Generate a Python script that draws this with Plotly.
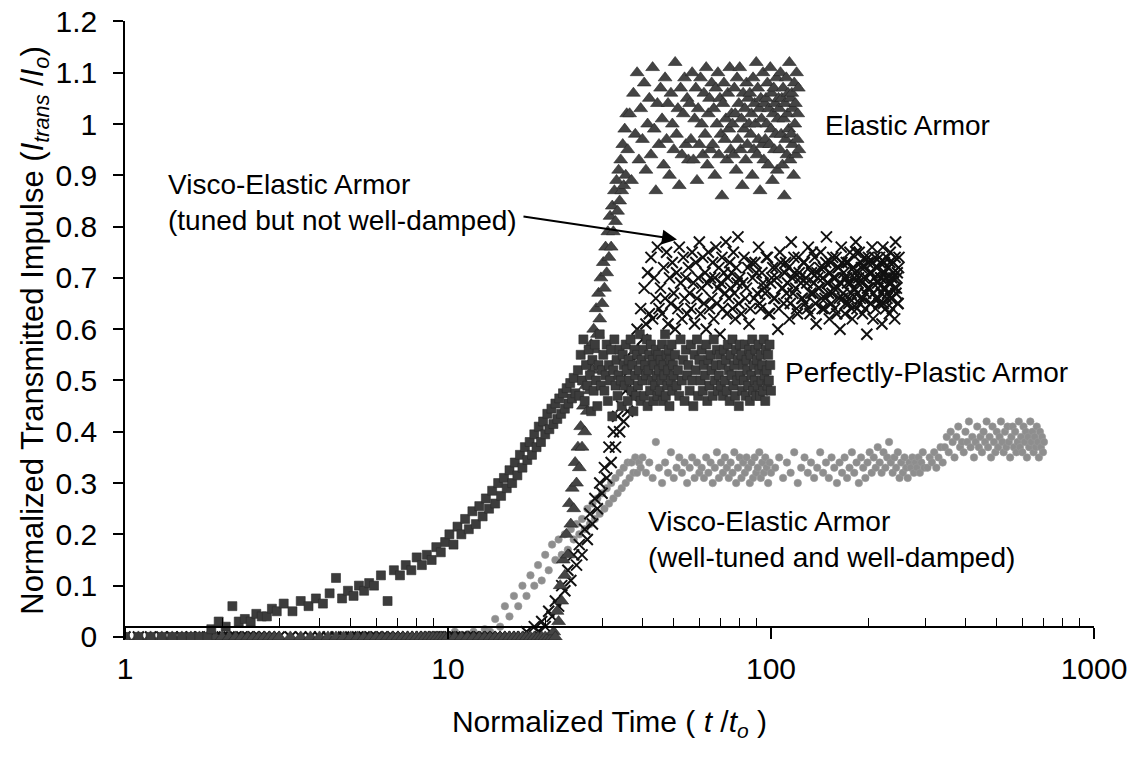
import plotly.graph_objects as go

# ---------------- data ----------------
x_tick_vals = [1, 10, 100, 1000]
x_tick_text = ["1", "10", "100", "1000"]
x_minor_vals = [2, 3, 4, 5, 6, 7, 8, 9, 20, 30, 40, 50, 60, 70, 80, 90,
                200, 300, 400, 500, 600, 700, 800, 900]
y_tick_vals = [0, 0.1, 0.2, 0.3, 0.4, 0.5, 0.6, 0.7, 0.8, 0.9, 1.0, 1.1, 1.2]
y_tick_text = ["0", "0.1", "0.2", "0.3", "0.4", "0.5", "0.6", "0.7", "0.8", "0.9", "1", "1.1", "1.2"]

t_early_a = [1.0, 1.1, 1.2, 1.3, 1.4, 1.5, 1.6, 1.7, 1.8, 1.9, 2.0, 2.1, 2.2, 2.3, 2.4, 2.5, 2.6, 2.7, 2.8, 2.9]
t_early_b = [3.0, 3.25, 3.5, 3.75, 4.0, 4.25, 4.5, 4.75, 5.0, 5.25, 5.5, 5.75, 6.0, 6.25, 6.5, 6.75, 7.0,
             7.25, 7.5, 7.75, 8.0, 8.25, 8.5, 8.75, 9.0, 9.25, 9.5, 9.75]

# ---- Elastic Armor ----
elastic_pre_t = t_early_a + t_early_b + [10.0, 10.5, 11.0, 11.5, 12.0, 12.5, 13.0, 13.5, 14.0, 14.5, 15.0, 15.5,
                                         16.0, 16.5, 17.0, 17.5, 18.0, 18.5, 19.0, 19.5, 20.0, 20.5, 21.0]
elastic_pre_i = [0, 0, 0, 0, 0, 0, 0, 0, 0, 0, 0, 0, 0, 0, 0, 0, 0, 0, 0, 0,
                 0, 0, 0, 0, 0, 0, 0, 0, 0, 0, 0, 0, 0, 0, 0, 0, 0, 0, 0, 0,
                 0, 0, 0, 0, 0, 0, 0, 0, 0, 0, 0, 0, 0, 0, 0, 0, 0, 0, 0, 0,
                 0, 0, 0, 0, 0, 0, 0, 0, 0, 0, 0]
elastic_rise_t = [21.25, 21.5, 21.75, 22, 22.25, 22.5, 22.75, 23, 23.25, 23.5, 23.75, 24, 24.25, 24.5, 24.75,
                  25, 25.25, 25.5, 25.75, 26, 26.25, 26.5, 26.75, 27, 27.25, 27.5, 27.75, 28, 28.25, 28.5,
                  28.75, 29, 29.25, 29.5, 29.75, 30, 30.25, 30.5, 30.75, 31, 31.25, 31.5, 31.75, 32, 32.25,
                  32.5, 32.75, 33, 33.25, 33.5, 33.75, 34, 34.25, 34.5, 34.75, 35, 35.25, 35.5, 35.75]
elastic_rise_i = [0.01, 0.0, 0.05, 0.03, 0.1, 0.07, 0.15, 0.12, 0.2, 0.16, 0.26, 0.22, 0.29, 0.25, 0.34,
                  0.3, 0.37, 0.33, 0.41, 0.37, 0.45, 0.4, 0.49, 0.44, 0.53, 0.48, 0.57, 0.52, 0.6, 0.56,
                  0.64, 0.59, 0.67, 0.62, 0.7, 0.65, 0.73, 0.68, 0.76, 0.71, 0.79, 0.74, 0.82, 0.76, 0.84,
                  0.79, 0.87, 0.81, 0.89, 0.83, 0.91, 0.85, 0.93, 0.87, 0.96, 0.88, 0.99, 0.9, 1.02]
elastic_plat_t = [36, 36.5, 37, 37.5, 38, 38.5, 39, 39.5, 40, 40.5, 41, 41.5, 42, 42.5, 43, 43.5, 44, 44.5,
                  45, 45.5, 46, 46.5, 47, 47.5, 48, 48.5, 49, 49.5, 50, 50.5, 51, 51.5, 52, 52.5, 53, 53.5,
                  54, 54.5, 55, 55.5, 56, 56.5, 57, 57.5, 58, 58.5, 59, 59.5, 60,
                  60.5, 61, 61.5, 62, 62.5, 63, 63.5, 64, 64.5, 65, 65.5, 66, 66.5, 67, 67.5, 68, 68.5, 69,
                  69.5, 70, 70.5, 71, 71.5, 72, 72.5, 73, 73.5, 74, 74.5, 75, 75.5, 76, 76.5, 77, 77.5, 78,
                  78.5, 79, 79.5, 80, 80.5, 81, 81.5, 82, 82.5, 83, 83.5, 84, 84.5, 85, 85.5, 86, 86.5, 87,
                  87.5, 88, 88.5, 89, 89.5, 90, 90.5, 91, 91.5, 92, 92.5, 93, 93.5, 94, 94.5, 95, 95.5, 96,
                  96.5, 97, 97.5, 98, 98.5, 99, 99.5, 100, 100.5, 101, 101.5, 102, 102.5, 103, 103.5, 104,
                  104.5, 105, 105.5, 106, 106.5, 107, 107.5, 108, 108.5, 109, 109.5, 110, 110.5, 111, 111.5,
                  112, 112.5, 113, 113.5, 114, 114.5, 115, 115.5, 116, 116.5, 117, 117.5, 118, 118.5, 119,
                  119.5, 120, 120.5, 121, 121.5, 122]
elastic_plat_i = [0.95, 1.02, 0.89, 1.06, 0.98, 1.1, 0.93, 1.03, 0.97, 1.08, 0.91, 1.0, 1.05, 0.94, 1.11, 0.99, 0.87, 1.04, 0.96, 1.07,
                  1.01, 0.92, 1.09, 0.97, 1.04, 0.9, 1.06, 1.0, 0.95, 1.12, 0.98, 1.03, 0.88, 1.07, 0.94, 1.02, 1.09, 0.96, 1.05, 0.93,
                  1.04, 0.97, 1.1, 0.93, 1.01, 1.07, 0.89, 1.03, 0.96, 1.09, 1.0, 0.94, 1.06, 0.98, 1.11, 0.92, 1.02, 1.05, 0.95, 1.08,
                  0.96, 1.03, 0.9, 1.07, 1.0, 1.1, 0.94, 1.05, 0.98, 0.86, 1.04, 1.08, 0.97, 1.01, 0.93, 1.06, 0.99, 1.11, 0.95, 1.02,
                  1.0, 0.94, 1.07, 1.02, 0.91, 1.09, 0.97, 1.04, 1.11, 0.95, 1.01, 0.88, 1.06, 0.99, 1.03, 0.93, 1.08, 0.96, 1.05, 1.0,
                  1.06, 0.98, 1.02, 0.9, 1.09, 0.95, 1.04, 1.0, 1.12, 0.94, 1.07, 0.97, 1.03, 0.87, 1.05, 1.01, 0.96, 1.1, 0.93, 1.04,
                  0.97, 1.05, 1.0, 1.08, 0.92, 1.03, 0.96, 1.11, 0.99, 1.06, 0.89, 1.02, 1.07, 0.95, 1.04, 0.98, 1.09, 0.91, 1.01, 1.05,
                  1.03, 0.95, 1.1, 0.98, 1.05, 0.92, 1.07, 1.01, 0.86, 1.04, 0.97, 1.09, 0.94, 1.02, 1.06, 0.99, 1.12, 0.93, 1.05, 0.98,
                  1.06, 0.96, 1.03, 0.9, 1.08, 1.0, 1.04, 0.94, 1.1, 0.97, 1.02, 1.07, 0.95]

# ---- Visco-Elastic Armor (tuned but not well-damped) ----
tuned_pre_t = t_early_a + t_early_b + [10.0, 10.5, 11.0, 11.5, 12.0, 12.5, 13.0, 13.5, 14.0, 14.5, 15.0, 15.5, 16.0, 16.5]
tuned_pre_i = [0, 0, 0, 0, 0, 0, 0, 0, 0, 0, 0, 0, 0, 0, 0, 0, 0, 0, 0, 0,
               0, 0, 0, 0, 0, 0, 0, 0, 0, 0, 0, 0, 0, 0, 0, 0, 0, 0, 0, 0,
               0, 0, 0, 0, 0, 0, 0, 0, 0, 0, 0, 0, 0, 0, 0, 0, 0, 0, 0, 0,
               0, 0]
tuned_rise_t = [17, 17.5, 18, 18.5, 19, 19.5, 20, 20.5, 21, 21.5, 22, 22.5, 23, 23.5, 24, 24.5, 25, 25.5, 26,
                26.5, 27, 27.5, 28, 28.5, 29, 29.5, 30, 30.5, 31, 31.5, 32, 32.5, 33, 33.5, 34, 34.5, 35, 35.5,
                36, 36.5, 37, 37.5, 38, 38.5, 39, 39.5, 40, 40.5, 41, 41.5, 42, 42.5, 43, 43.5, 44, 44.5, 45]
tuned_rise_i = [0.0, 0.01, 0.0, 0.02, 0.01, 0.03, 0.02, 0.05, 0.04, 0.07, 0.06, 0.1, 0.09, 0.13, 0.11, 0.16, 0.14,
                0.18, 0.16, 0.21, 0.19, 0.24, 0.22, 0.27, 0.25, 0.3, 0.28, 0.33, 0.31, 0.37, 0.34, 0.4, 0.37, 0.43,
                0.4, 0.45, 0.42, 0.48, 0.44, 0.52, 0.47, 0.56, 0.51, 0.6, 0.55, 0.64, 0.58, 0.68, 0.61, 0.71, 0.63,
                0.74, 0.62, 0.7, 0.66, 0.76, 0.64]
tuned_plat_t = [45.5, 46, 46.5, 47, 47.5, 48, 48.5, 49, 49.5, 50, 50.5, 51, 51.5, 52, 52.5, 53, 53.5, 54, 54.5, 55,
                55.5, 56, 56.5, 57, 57.5, 58, 58.5, 59, 59.5, 60, 60.5, 61, 61.5, 62, 62.5, 63, 63.5, 64, 64.5, 65,
                65.5, 66, 66.5, 67, 67.5, 68, 68.5, 69, 69.5, 70, 70.5, 71, 71.5, 72, 72.5, 73, 73.5, 74, 74.5, 75,
                75.5, 76, 76.5, 77, 77.5, 78, 78.5, 79, 79.5, 80,
                81, 82.5, 84, 85.5, 87, 88.5, 90, 91.5, 93, 94.5, 96, 97.5, 99, 100.5, 102, 103.5, 105, 106.5, 108, 109.5,
                111, 112.5, 114, 115.5, 117, 118.5, 120, 121.5, 123, 124.5, 126, 127.5, 129, 130.5, 132, 133.5, 135, 136.5,
                138, 139.5, 141, 142.5, 144, 145.5, 147, 148.5, 150, 151.5, 153, 154.5, 156, 157.5, 159, 160.5, 162, 163.5,
                165, 166.5, 168, 169.5, 171, 172.5, 174, 175.5, 177, 178.5, 180, 181.5, 183, 184.5, 186, 187.5, 189, 190.5,
                192, 193.5, 195, 196.5, 198, 199.5, 201, 202.5, 204, 205.5, 207, 208.5, 210, 211.5, 213, 214.5, 216, 217.5,
                219, 220.5, 222, 223.5, 225, 226.5, 228, 229.5, 231, 232.5, 234, 235.5, 237, 238.5, 240, 241.5, 243, 244.5,
                246, 247.5, 249]
tuned_plat_i = [0.68, 0.63, 0.72, 0.66, 0.75, 0.61, 0.7, 0.65, 0.73, 0.67, 0.6, 0.71, 0.64, 0.76, 0.69, 0.62, 0.74, 0.66, 0.7, 0.63,
                0.72, 0.67, 0.64, 0.75, 0.69, 0.61, 0.73, 0.66, 0.7, 0.77, 0.63, 0.68, 0.74, 0.65, 0.71, 0.6, 0.69, 0.75, 0.64, 0.7,
                0.66, 0.73, 0.62, 0.7, 0.76, 0.65, 0.68, 0.72, 0.59, 0.69, 0.74, 0.64, 0.71, 0.67, 0.77, 0.63, 0.7, 0.66, 0.73, 0.68,
                0.71, 0.64, 0.75, 0.67, 0.62, 0.72, 0.69, 0.78, 0.65, 0.7, 0.63, 0.74, 0.68, 0.61, 0.73, 0.66, 0.71, 0.76, 0.64, 0.69,
                0.67, 0.74, 0.63, 0.7, 0.66, 0.72, 0.6, 0.75, 0.68, 0.65, 0.73, 0.69, 0.62, 0.77, 0.67, 0.71, 0.64, 0.74, 0.7, 0.66,
                0.73, 0.65, 0.69, 0.76, 0.63, 0.71, 0.67, 0.74, 0.61, 0.7, 0.68, 0.75, 0.64, 0.72, 0.66, 0.78, 0.69, 0.62, 0.73, 0.67,
                0.7, 0.64, 0.74, 0.68, 0.72, 0.6, 0.76, 0.66, 0.71, 0.63, 0.73, 0.69, 0.65, 0.75, 0.67, 0.62, 0.72, 0.7, 0.77, 0.64,
                0.69, 0.75, 0.66, 0.72, 0.63, 0.7, 0.74, 0.67, 0.59, 0.73, 0.68, 0.71, 0.65, 0.76, 0.62, 0.7, 0.74, 0.66, 0.72, 0.68,
                0.65, 0.73, 0.7, 0.61, 0.76, 0.68, 0.71, 0.64, 0.74, 0.67, 0.72, 0.63, 0.75, 0.69, 0.66, 0.73, 0.7, 0.62, 0.77, 0.68,
                0.71, 0.65, 0.74]
# intermediate samples of the same record in the late plateau (densely packed core)
tuned_late_t = [81.75, 83.25, 84.75, 86.25, 87.75, 89.25, 90.75, 92.25, 93.75, 95.25,
                96.75, 98.25, 99.75, 101.25, 102.75, 104.25, 105.75, 107.25, 108.75, 110.25,
                111.75, 113.25, 114.75, 116.25, 117.75, 119.25, 120.75, 122.25, 123.75, 125.25,
                126.75, 128.25, 129.75, 131.25, 132.75, 134.25, 135.75, 137.25, 138.75, 140.25,
                141.75, 143.25, 144.75, 146.25, 147.75, 149.25, 150.75, 152.25, 153.75, 155.25,
                156.75, 158.25, 159.75, 161.25, 162.75, 164.25, 165.75, 167.25, 168.75, 170.25,
                171.75, 173.25, 174.75, 176.25, 177.75, 179.25, 180.75, 182.25, 183.75, 185.25,
                186.75, 188.25, 189.75, 191.25, 192.75, 194.25, 195.75, 197.25, 198.75, 200.25,
                201.75, 203.25, 204.75, 206.25, 207.75, 209.25, 210.75, 212.25, 213.75, 215.25,
                216.75, 218.25, 219.75, 221.25, 222.75, 224.25, 225.75, 227.25, 228.75, 230.25,
                231.75, 233.25, 234.75, 236.25, 237.75, 239.25, 240.75, 242.25, 243.75, 245.25,
                246.75, 248.25]
tuned_late_i = [0.69, 0.66, 0.72, 0.64, 0.7, 0.73, 0.67, 0.65, 0.71, 0.68, 0.74, 0.63, 0.69, 0.72, 0.66, 0.7, 0.64, 0.73, 0.68, 0.71,
                0.67, 0.72, 0.65, 0.7, 0.74, 0.68, 0.63, 0.71, 0.69, 0.66, 0.73, 0.7, 0.64, 0.72, 0.67, 0.75, 0.69, 0.65, 0.71, 0.68,
                0.72, 0.66, 0.7, 0.64, 0.73, 0.69, 0.67, 0.71, 0.65, 0.74, 0.68, 0.7, 0.63, 0.72, 0.66, 0.69, 0.73, 0.67, 0.7, 0.65,
                0.7, 0.73, 0.66, 0.69, 0.64, 0.72, 0.68, 0.71, 0.75, 0.67, 0.7, 0.65, 0.73, 0.69, 0.66, 0.72, 0.64, 0.7, 0.68, 0.74,
                0.68, 0.65, 0.71, 0.73, 0.67, 0.7, 0.64, 0.72, 0.69, 0.66, 0.74, 0.7, 0.67, 0.71, 0.65, 0.73, 0.68, 0.7, 0.66, 0.72,
                0.69, 0.73, 0.66, 0.7, 0.64, 0.71, 0.68, 0.74, 0.67, 0.7, 0.65, 0.72]

# ---- Perfectly-Plastic Armor ----
plastic_pre_t = [1.0, 1.1, 1.2, 1.3, 1.4, 1.5, 1.6, 1.7, 1.8]
plastic_pre_i = [0, 0, 0, 0, 0, 0, 0, 0, 0]
plastic_rise_t = [1.85, 1.95, 2.05, 2.15, 2.25, 2.35, 2.45, 2.55, 2.65, 2.75, 2.85, 2.95,
                  3.1, 3.3, 3.5, 3.7, 3.9, 4.1, 4.3, 4.5, 4.7, 4.9, 5.1, 5.3, 5.5, 5.7, 5.9,
                  6.2, 6.5, 6.8, 7.1, 7.4, 7.7, 8.0, 8.3, 8.6, 8.9, 9.2, 9.5, 9.8,
                  10.1, 10.4, 10.7, 11.0, 11.3, 11.6, 11.9, 12.2, 12.5, 12.8, 13.1, 13.4, 13.7, 14.0, 14.3,
                  14.6, 14.9, 15.2, 15.5, 15.8, 16.1, 16.4, 16.7, 17.0, 17.3, 17.6, 17.9, 18.2, 18.5, 18.8,
                  19.1, 19.4, 19.7, 20.0, 20.3, 20.6, 20.9, 21.2, 21.5, 21.8, 22.1, 22.4, 22.7, 23.0, 23.3,
                  23.6, 23.9, 24.2, 24.5, 24.8]
plastic_rise_i = [0.015, 0.03, 0.02, 0.06, 0.03, 0.035, 0.03, 0.045, 0.04, 0.04, 0.055, 0.05,
                  0.065, 0.05, 0.07, 0.06, 0.075, 0.065, 0.085, 0.115, 0.075, 0.09, 0.08, 0.1, 0.09, 0.105, 0.1,
                  0.12, 0.07, 0.13, 0.12, 0.14, 0.13, 0.155, 0.14, 0.16, 0.15, 0.175, 0.165, 0.185,
                  0.2, 0.18, 0.215, 0.2, 0.23, 0.21, 0.245, 0.22, 0.255, 0.235, 0.27, 0.25, 0.285, 0.26, 0.3,
                  0.275, 0.31, 0.29, 0.325, 0.3, 0.34, 0.315, 0.355, 0.33, 0.37, 0.345, 0.38, 0.355, 0.395, 0.37,
                  0.41, 0.38, 0.42, 0.395, 0.435, 0.405, 0.445, 0.415, 0.455, 0.425, 0.465, 0.435, 0.475, 0.445, 0.485,
                  0.455, 0.495, 0.465, 0.505, 0.475]
plastic_plat_t = [25.25, 25.5, 25.75, 26, 26.25, 26.5, 26.75, 27, 27.25, 27.5, 27.75, 28, 28.25, 28.5, 28.75, 29, 29.25, 29.5, 29.75, 30,
                  30.25, 30.5, 30.75, 31, 31.25, 31.5, 31.75, 32, 32.25, 32.5, 32.75, 33, 33.25, 33.5, 33.75, 34, 34.25, 34.5, 34.75, 35,
                  35.25, 35.5, 35.75, 36, 36.25, 36.5, 36.75, 37, 37.25, 37.5, 37.75, 38, 38.25, 38.5, 38.75, 39, 39.25, 39.5, 39.75, 40,
                  40.25, 40.5, 40.75, 41, 41.25, 41.5, 41.75, 42, 42.25, 42.5, 42.75, 43, 43.25, 43.5, 43.75, 44, 44.25, 44.5, 44.75, 45,
                  45.25, 45.5, 45.75, 46, 46.25, 46.5, 46.75, 47, 47.25, 47.5, 47.75, 48, 48.25, 48.5, 48.75, 49, 49.25, 49.5, 49.75, 50,
                  50.5, 51, 51.5, 52, 52.5, 53, 53.5, 54, 54.5, 55, 55.5, 56, 56.5, 57, 57.5, 58, 58.5, 59, 59.5, 60,
                  60.5, 61, 61.5, 62, 62.5, 63, 63.5, 64, 64.5, 65, 65.5, 66, 66.5, 67, 67.5, 68, 68.5, 69, 69.5, 70,
                  70.5, 71, 71.5, 72, 72.5, 73, 73.5, 74, 74.5, 75, 75.5, 76, 76.5, 77, 77.5, 78, 78.5, 79, 79.5, 80,
                  80.5, 81, 81.5, 82, 82.5, 83, 83.5, 84, 84.5, 85, 85.5, 86, 86.5, 87, 87.5, 88, 88.5, 89, 89.5, 90,
                  90.5, 91, 91.5, 92, 92.5, 93, 93.5, 94, 94.5, 95, 95.5, 96, 96.5, 97, 97.5, 98, 98.5, 99, 99.5, 100]
plastic_plat_i = [0.52, 0.47, 0.55, 0.5, 0.58, 0.46, 0.53, 0.49, 0.56, 0.51, 0.44, 0.54, 0.48, 0.57, 0.5, 0.45, 0.53, 0.59, 0.49, 0.52,
                  0.55, 0.48, 0.51, 0.57, 0.46, 0.53, 0.5, 0.56, 0.43, 0.52, 0.58, 0.49, 0.54, 0.47, 0.51, 0.56, 0.5, 0.45, 0.55, 0.53,
                  0.49, 0.57, 0.52, 0.46, 0.54, 0.5, 0.58, 0.48, 0.53, 0.44, 0.56, 0.51, 0.47, 0.55, 0.49, 0.52, 0.59, 0.46, 0.54, 0.5,
                  0.56, 0.47, 0.53, 0.51, 0.58, 0.45, 0.52, 0.55, 0.48, 0.57, 0.5, 0.54, 0.46, 0.53, 0.49, 0.56, 0.51, 0.47, 0.55, 0.52,
                  0.48, 0.54, 0.5, 0.57, 0.46, 0.53, 0.51, 0.59, 0.47, 0.55, 0.49, 0.52, 0.56, 0.45, 0.54, 0.5, 0.57, 0.48, 0.53, 0.51,
                  0.55, 0.49, 0.52, 0.47, 0.58, 0.5, 0.54, 0.46, 0.56, 0.51, 0.53, 0.48, 0.57, 0.5, 0.45, 0.55, 0.52, 0.58, 0.47, 0.54,
                  0.5, 0.56, 0.48, 0.53, 0.51, 0.57, 0.46, 0.54, 0.49, 0.55, 0.52, 0.47, 0.58, 0.5, 0.53, 0.56, 0.48, 0.51, 0.55, 0.49,
                  0.53, 0.47, 0.56, 0.5, 0.54, 0.48, 0.57, 0.52, 0.46, 0.55, 0.51, 0.58, 0.49, 0.53, 0.47, 0.56, 0.5, 0.54, 0.45, 0.57,
                  0.51, 0.55, 0.48, 0.53, 0.5, 0.57, 0.47, 0.54, 0.52, 0.49, 0.56, 0.46, 0.55, 0.51, 0.58, 0.48, 0.53, 0.5, 0.56, 0.47,
                  0.54, 0.49, 0.57, 0.52, 0.47, 0.55, 0.5, 0.53, 0.48, 0.58, 0.51, 0.46, 0.56, 0.52, 0.49, 0.55, 0.5, 0.57, 0.53, 0.48]

# ---- Visco-Elastic Armor (well-tuned and well-damped) ----
damped_pre_t = [10.0, 10.5, 11.0, 11.5, 12.0, 12.5, 13.0]
damped_pre_i = [0, 0.01, 0, 0.005, 0.01, 0, 0.015]
damped_rise_t = [13.5, 14, 14.5, 15, 15.5, 16, 16.5, 17, 17.5, 18, 18.5, 19, 19.5, 20, 20.5, 21, 21.5, 22, 22.5,
                 23, 23.5, 24, 24.5, 25, 25.5, 26, 26.5, 27, 27.5, 28, 28.5, 29, 29.5, 30, 30.5, 31, 31.5, 32,
                 32.5, 33, 33.5, 34, 34.5, 35, 35.5, 36, 36.5, 37, 37.5, 38, 38.5, 39, 39.5, 40]
damped_rise_i = [0.01, 0.035, 0.02, 0.06, 0.04, 0.08, 0.06, 0.1, 0.08, 0.12, 0.1, 0.14, 0.11, 0.16, 0.13, 0.18, 0.15,
                 0.19, 0.16, 0.2, 0.17, 0.21, 0.19, 0.22, 0.2, 0.23, 0.21, 0.25, 0.22, 0.26, 0.23, 0.27, 0.24, 0.28,
                 0.25, 0.29, 0.26, 0.3, 0.27, 0.31, 0.28, 0.32, 0.29, 0.33, 0.3, 0.34, 0.31, 0.34, 0.32, 0.35, 0.32,
                 0.34, 0.33, 0.35]
damped_plat_t = [41, 42, 43, 44, 45, 46, 47, 48, 49, 50, 51, 52, 53, 54, 55, 56, 57, 58, 59, 60,
                 61, 62, 63, 64, 65, 66, 67, 68, 69, 70, 71, 72, 73, 74, 75, 76, 77, 78, 79, 80,
                 81, 82, 83, 84, 85, 86, 87, 88, 89, 90, 91, 92, 93, 94, 95, 96, 97, 98, 99, 100,
                 103, 106, 109, 112, 115, 118, 121, 124, 127, 130, 133, 136, 139, 142, 145, 148, 151, 154, 157, 160,
                 163, 166, 169, 172, 175, 178, 181, 184, 187, 190, 193, 196, 199, 202, 205, 208, 211, 214, 217, 220,
                 223, 226, 229, 232, 235, 238, 241, 244, 247, 250, 253, 256, 259, 262, 265, 268, 271, 274, 277, 280,
                 283, 286, 289, 292, 295, 298,
                 305, 310, 315, 320, 325, 330, 335, 340,
                 345, 350, 355, 360, 365, 370, 375, 380, 385, 390, 395, 400, 405, 410, 415, 420, 425, 430, 435, 440,
                 445, 450, 455, 460, 465, 470, 475, 480, 485, 490, 495, 500, 505, 510, 515, 520, 525, 530, 535, 540,
                 545, 550, 555, 560, 565, 570, 575, 580, 585, 590, 595, 600, 605, 610, 615, 620, 625, 630, 635, 640,
                 645, 650, 655, 660, 665, 670, 675, 680, 685, 690, 695, 700]
damped_plat_i = [0.32, 0.34, 0.31, 0.38, 0.33, 0.3, 0.34, 0.32, 0.36, 0.31, 0.33, 0.35, 0.32, 0.34, 0.3, 0.33, 0.35, 0.31, 0.34, 0.32,
                 0.33, 0.31, 0.35, 0.32, 0.34, 0.3, 0.33, 0.36, 0.31, 0.34, 0.32, 0.35, 0.33, 0.31, 0.34, 0.32, 0.36, 0.3, 0.33, 0.35,
                 0.31, 0.34, 0.32, 0.35, 0.33, 0.3, 0.34, 0.31, 0.35, 0.32, 0.33, 0.36, 0.31, 0.34, 0.32, 0.35, 0.33, 0.3, 0.34, 0.32,
                 0.33, 0.35, 0.31, 0.34, 0.32, 0.36, 0.3, 0.33, 0.35, 0.32, 0.34, 0.31, 0.33, 0.36, 0.32, 0.34, 0.31, 0.35, 0.33, 0.3,
                 0.34, 0.32, 0.35, 0.31, 0.33, 0.36, 0.32, 0.34, 0.3, 0.35, 0.33, 0.31, 0.34, 0.36, 0.32, 0.35, 0.33, 0.37, 0.34, 0.32,
                 0.36, 0.33, 0.35, 0.38, 0.34, 0.32, 0.35, 0.33, 0.36, 0.31, 0.34, 0.32, 0.35, 0.33, 0.31, 0.34, 0.33, 0.35, 0.32, 0.34,
                 0.33, 0.35, 0.32, 0.34, 0.36, 0.33,
                 0.33, 0.35, 0.34, 0.36, 0.33, 0.35, 0.37, 0.34,
                 0.37, 0.39, 0.36, 0.4, 0.38, 0.35, 0.39, 0.41, 0.37, 0.38, 0.36, 0.4, 0.38, 0.42, 0.37, 0.39, 0.35, 0.38, 0.41, 0.37,
                 0.39, 0.36, 0.4, 0.38, 0.42, 0.37, 0.39, 0.35, 0.41, 0.38, 0.36, 0.4, 0.37, 0.39, 0.42, 0.38, 0.36, 0.4, 0.37, 0.41,
                 0.38, 0.35, 0.39, 0.41, 0.37, 0.4, 0.36, 0.38, 0.42, 0.37, 0.39, 0.36, 0.41, 0.38, 0.4, 0.35, 0.39, 0.37, 0.42, 0.38,
                 0.4, 0.36, 0.39, 0.37, 0.41, 0.38, 0.35, 0.4, 0.37, 0.39, 0.36, 0.38]

# ---------------- figure ----------------
FONT = "Liberation Sans, Arial, Helvetica, sans-serif"
Y_MIN, Y_MAX = -0.006, 1.2008
X_AXIS_AT = 0.0185  # time-axis baseline sits just above zero in the original

fig = go.Figure()

fig.add_trace(go.Scatter(
    x=damped_pre_t + damped_rise_t + damped_plat_t,
    y=damped_pre_i + damped_rise_i + damped_plat_i,
    mode="markers", name="Visco-Elastic (well-tuned and well-damped)",
    marker=dict(symbol="circle", size=7.5, color="#8e8e8e", line=dict(width=0.6, color="#9a9a9a")),
    hoverinfo="skip"))

fig.add_trace(go.Scatter(
    x=tuned_pre_t + tuned_rise_t + tuned_plat_t + tuned_late_t,
    y=tuned_pre_i + tuned_rise_i + tuned_plat_i + tuned_late_i,
    mode="markers", name="Visco-Elastic (tuned but not well-damped)",
    marker=dict(symbol="x-thin", size=11, color="#111111", line=dict(width=2, color="#111111")),
    hoverinfo="skip"))

fig.add_trace(go.Scatter(
    x=elastic_pre_t + elastic_rise_t + elastic_plat_t,
    y=elastic_pre_i + elastic_rise_i + elastic_plat_i,
    mode="markers", name="Elastic Armor",
    marker=dict(symbol="triangle-up", size=12, color="#444444", line=dict(width=0.6, color="#262626")),
    hoverinfo="skip"))

fig.add_trace(go.Scatter(
    x=plastic_pre_t + plastic_rise_t + plastic_plat_t,
    y=plastic_pre_i + plastic_rise_i + plastic_plat_i,
    mode="markers", name="Perfectly-Plastic Armor",
    marker=dict(symbol="square", size=9, color="#3c3c3c", line=dict(width=0.6, color="#2c2c2c")),
    hoverinfo="skip"))

fig.update_layout(
    width=1138, height=758,
    margin=dict(l=125, r=44, t=21, b=118, autoexpand=False),
    paper_bgcolor="white", plot_bgcolor="white",
    font=dict(family=FONT, size=28, color="black"),
    showlegend=False,
)

fig.update_xaxes(
    type="log", range=[0, 3], automargin=False,
    tickvals=x_tick_vals, ticktext=x_tick_text,
    ticks="outside", ticklen=11, tickwidth=1.5, tickcolor="black",
    showline=True, linecolor="black", linewidth=1.5,
    showgrid=False, zeroline=False,
    anchor="free", position=(X_AXIS_AT - Y_MIN) / (Y_MAX - Y_MIN),
    ticklabelstandoff=4, ticklabeloverflow="allow",
    tickfont=dict(size=30, family=FONT, color="black"),
    minor=dict(tickvals=x_minor_vals, ticks="inside", ticklen=9, tickwidth=1.2,
               tickcolor="black", showgrid=False),
    title=dict(text="Normalized Time ( <i>t</i> /<i>t</i><sub><i>o</i></sub> )",
               font=dict(size=30, family=FONT, color="black"), standoff=26),
)

fig.update_yaxes(
    range=[Y_MIN, Y_MAX], automargin=False,
    tickvals=y_tick_vals, ticktext=y_tick_text,
    ticks="outside", ticklen=10, tickwidth=1.5, tickcolor="black",
    showline=True, linecolor="black", linewidth=1.5,
    showgrid=False, zeroline=False,
    ticklabelstandoff=10, ticklabeloverflow="allow",
    tickfont=dict(size=30, family=FONT, color="black"),
    title=dict(text="Normalized Transmitted Impulse (<i>I</i><sub><i>trans</i></sub> /<i>I</i><sub><i>o</i></sub>)",
               font=dict(size=31, family=FONT, color="black"), standoff=3),
)

ann_font = dict(size=28, family=FONT, color="black")
fig.add_annotation(x=2.161, y=0.997, xref="x", yref="y", text="Elastic Armor",
                   showarrow=False, xanchor="left", yanchor="middle", font=ann_font)
fig.add_annotation(x=0.127, y=0.846, xref="x", yref="y",
                   text="Visco-Elastic Armor<br>(tuned but not well-damped)",
                   showarrow=False, xanchor="left", yanchor="middle", align="left", font=ann_font)
fig.add_annotation(x=1.709, y=0.775, xref="x", yref="y", axref="x", ayref="y",
                   ax=1.229, ay=0.82, text="", showarrow=True,
                   arrowhead=2, arrowsize=1.5, arrowwidth=2, arrowcolor="black")
fig.add_annotation(x=2.036, y=0.516, xref="x", yref="y", text="Perfectly-Plastic Armor",
                   showarrow=False, xanchor="left", yanchor="middle", font=ann_font)
fig.add_annotation(x=1.612, y=0.19, xref="x", yref="y",
                   text="Visco-Elastic Armor<br>(well-tuned and well-damped)",
                   showarrow=False, xanchor="left", yanchor="middle", align="left", font=ann_font)

# remove the browser's default 8px page margin so the figure sits at the window origin
fig.write_html("out.html",
               config={"displayModeBar": False},
               post_script="document.body.style.margin='0';document.body.style.overflow='hidden';")
